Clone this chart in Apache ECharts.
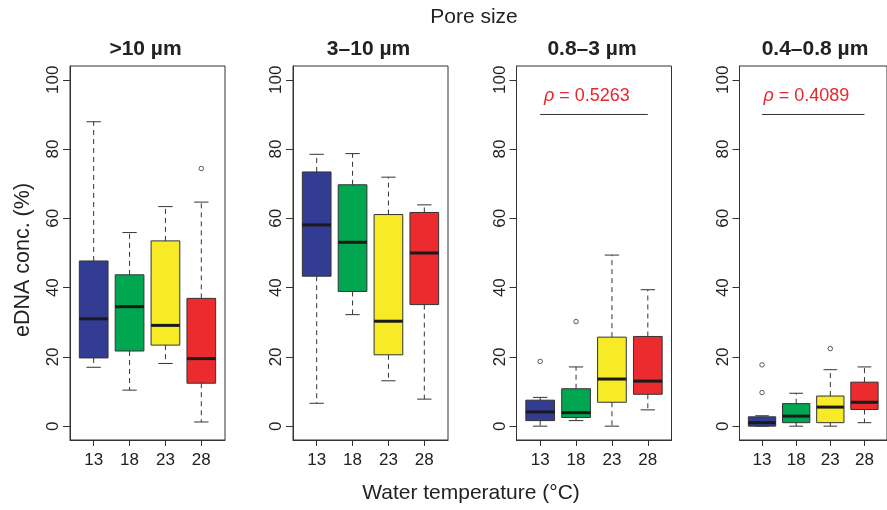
<!DOCTYPE html>
<html>
<head>
<meta charset="utf-8">
<script src="https://cdn.jsdelivr.net/npm/echarts@6/dist/echarts.min.js"></script>
<style>html,body{margin:0;padding:0;background:#fff;}#chart{width:887px;height:510px;}</style>
</head>
<body>
<div id="chart"></div>
<script>
// ---- data ----
const temps = ['13', '18', '23', '28'];
const panelTitles = ['>10 µm', '3–10 µm', '0.8–3 µm', '0.4–0.8 µm'];
const yTicks = [0, 20, 40, 60, 80, 100];
// each box: [lower whisker, Q1, median, Q3, upper whisker] per temperature
const boxP1 = [[17.0, 19.7, 31.0, 47.7, 87.9], [10.4, 21.7, 34.5, 43.7, 55.9], [18.1, 23.4, 29.1, 53.5, 63.4], [1.2, 12.4, 19.5, 36.9, 64.7]];
const boxP2 = [[6.6, 43.3, 58.1, 73.4, 78.5], [32.2, 38.9, 53.1, 69.7, 78.7], [13.1, 20.6, 30.3, 61.1, 71.9], [7.8, 35.1, 50.0, 61.7, 63.9]];
const boxP3 = [[0.0, 1.6, 4.1, 7.5, 8.3], [1.6, 2.5, 3.9, 10.8, 17.1], [0.0, 6.9, 13.6, 25.7, 49.4], [4.7, 9.2, 13.0, 25.9, 39.4]];
const boxP4 = [[0.0, 0.0, 1.0, 2.7, 3.0], [0.0, 1.0, 2.9, 6.5, 9.5], [0.0, 1.0, 5.5, 8.7, 16.3], [1.0, 4.8, 6.9, 12.7, 17.1]];
// outliers: [temperature index (1-based), value]
const outP1 = [[4, 74.4]];
const outP2 = [];
const outP3 = [[1, 18.7], [2, 30.2]];
const outP4 = [[1, 17.7], [1, 9.7], [3, 22.4]];
const rhoValues = [null, null, '0.5263', '0.4089'];
const rhoLevel = 90;

const boxes = [boxP1, boxP2, boxP3, boxP4];
const outliers = [outP1, outP2, outP3, outP4];
const boxColors = ['#333c93', '#00a650', '#f7eb27', '#ec2b2f'];
const FONT = 'Liberation Sans, Arial, sans-serif';
const INK = '#333333';

const chart = echarts.init(document.getElementById('chart'), null, {renderer: 'canvas'});

const gridLefts = [70, 293, 516.5, 739.5];
const grids = [], xAxes = [], yAxes = [], series = [], graphics = [];

function renderBox(params, api) {
  const x = api.value(0);
  const v = [1, 2, 3, 4, 5].map(i => api.value(i));
  const p = v.map(val => api.coord([x, val]));
  const cx = p[0][0];
  const half = api.size([0.4, 0])[0];
  const cap = api.size([0.2, 0])[0];
  const color = boxColors[params.dataIndex];
  const dash = {stroke: INK, lineWidth: 1, lineDash: [5, 4]};
  const solid = {stroke: INK, lineWidth: 1};
  return {
    type: 'group',
    children: [
      {type: 'line', shape: {x1: cx, y1: p[3][1], x2: cx, y2: p[4][1]}, style: dash},
      {type: 'line', shape: {x1: cx, y1: p[1][1], x2: cx, y2: p[0][1]}, style: dash},
      {type: 'line', shape: {x1: cx - cap, y1: p[4][1], x2: cx + cap, y2: p[4][1]}, style: solid},
      {type: 'line', shape: {x1: cx - cap, y1: p[0][1], x2: cx + cap, y2: p[0][1]}, style: solid},
      {type: 'rect', shape: {x: cx - half, y: p[3][1], width: 2 * half, height: p[1][1] - p[3][1]},
        style: {fill: color, stroke: INK, lineWidth: 1}},
      {type: 'line', shape: {x1: cx - half, y1: p[2][1], x2: cx + half, y2: p[2][1]},
        style: {stroke: '#1a1a1a', lineWidth: 3}}
    ]
  };
}

function makeRhoRenderer(rv) {
  return function (params, api) {
    const y = api.value(0);
    const a = api.coord([1, y]);
    const b = api.coord([4, y]);
    const t = api.coord([2.3, y + 5.3]);
    return {
      type: 'group',
      children: [
        {type: 'line', shape: {x1: a[0], y1: a[1], x2: b[0], y2: b[1]}, style: {stroke: INK, lineWidth: 1}},
        {type: 'text', x: t[0], y: t[1], style: {
          text: '{i|ρ} = ' + rv,
          fill: '#e8262d', fontSize: 18, fontFamily: FONT, align: 'center', verticalAlign: 'middle',
          rich: {i: {fontStyle: 'italic', fontSize: 18, fontFamily: FONT, fill: '#e8262d'}}
        }}
      ]
    };
  };
}

for (let i = 0; i < 4; i++) {
  grids.push({left: gridLefts[i], top: 66, width: 155, height: 374, show: true,
    borderColor: INK, borderWidth: 1, backgroundColor: 'transparent', containLabel: false});
  xAxes.push({
    type: 'value', gridIndex: i, min: 0.34, max: 4.66, position: 'bottom',
    splitLine: {show: false}, axisLine: {show: true, onZero: false, lineStyle: {color: INK, width: 1}},
    axisTick: {show: true, inside: false, length: 6, customValues: [1, 2, 3, 4], lineStyle: {color: INK, width: 1}},
    axisLabel: {customValues: [1, 2, 3, 4], margin: 12, fontSize: 17, color: '#222', fontFamily: FONT,
      formatter: v => temps[Math.round(v) - 1]}
  });
  yAxes.push({
    type: 'value', gridIndex: i, min: -4, max: 104, position: 'left',
    splitLine: {show: false}, axisLine: {show: true, onZero: false, lineStyle: {color: INK, width: 1}},
    axisTick: {show: true, inside: false, length: 7, customValues: yTicks, lineStyle: {color: INK, width: 1}},
    axisLabel: {customValues: yTicks, rotate: 90, margin: 8, fontSize: 17, color: '#222', fontFamily: FONT}
  });
  series.push({
    type: 'custom', xAxisIndex: i, yAxisIndex: i, renderItem: renderBox, clip: false,
    encode: {x: 0, y: [1, 2, 3, 4, 5]},
    data: boxes[i].map((b, k) => [k + 1].concat(b))
  });
  series.push({
    type: 'scatter', xAxisIndex: i, yAxisIndex: i, symbol: 'circle', symbolSize: 4.5,
    itemStyle: {color: '#ffffff', borderColor: INK, borderWidth: 1},
    data: outliers[i]
  });
  if (rhoValues[i]) {
    series.push({
      type: 'custom', xAxisIndex: i, yAxisIndex: i,
      renderItem: makeRhoRenderer(rhoValues[i]),
      encode: {y: 0},
      data: [[rhoLevel]]
    });
  }
  graphics.push({type: 'text', x: gridLefts[i] + 77.5 - 2, y: 49,
    style: {text: panelTitles[i], fontSize: 21, fontWeight: 'bold', fontFamily: FONT, fill: '#222',
      align: 'center', verticalAlign: 'middle'}});
}

graphics.push({type: 'text', x: 474, y: 17,
  style: {text: 'Pore size', fontSize: 21, fontFamily: FONT, fill: '#222', align: 'center', verticalAlign: 'middle'}});
graphics.push({type: 'text', x: 471, y: 493,
  style: {text: 'Water temperature (°C)', fontSize: 21, fontFamily: FONT, fill: '#222', align: 'center', verticalAlign: 'middle'}});
graphics.push({type: 'text', x: 23, y: 260, rotation: Math.PI / 2,
  style: {text: 'eDNA conc. (%)', fontSize: 21.5, fontFamily: FONT, fill: '#222', align: 'center', verticalAlign: 'middle'}});

chart.setOption({
  animation: false,
  backgroundColor: '#ffffff',
  grid: grids,
  xAxis: xAxes,
  yAxis: yAxes,
  series: series,
  graphic: graphics
});
</script>
</body>
</html>
